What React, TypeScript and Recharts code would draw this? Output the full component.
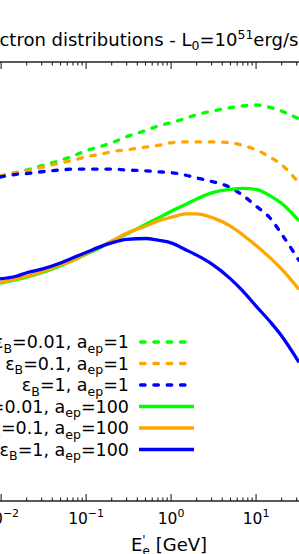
import React from 'react';
import { LineChart, Line, XAxis, YAxis } from 'recharts';

// energy grid (GeV) and log10 of the distributions (arbitrary units)
const ENERGY = [0.0097, 0.015, 0.02, 0.03, 0.05, 0.07, 0.1, 0.15, 0.2, 0.3, 0.5, 0.7, 1, 1.5, 2, 3, 5, 7, 10, 15, 20, 32];

const greenDashed = [48.70, 48.74, 48.77, 48.82, 48.88, 48.93, 48.99, 49.04, 49.08, 49.15, 49.22, 49.27, 49.31, 49.36, 49.40, 49.44, 49.48, 49.50, 49.51, 49.48, 49.44, 49.35];
const orangeDashed = [48.70, 48.74, 48.76, 48.80, 48.85, 48.88, 48.92, 48.95, 48.98, 49.00, 49.03, 49.05, 49.08, 49.09, 49.09, 49.09, 49.08, 49.05, 49.00, 48.91, 48.83, 48.62];
const blueDashed = [48.69, 48.72, 48.73, 48.75, 48.77, 48.78, 48.78, 48.78, 48.78, 48.77, 48.76, 48.75, 48.74, 48.71, 48.68, 48.64, 48.57, 48.48, 48.36, 48.21, 48.04, 47.74];
const greenSolid = [47.48, 47.52, 47.55, 47.60, 47.68, 47.74, 47.81, 47.89, 47.96, 48.04, 48.15, 48.22, 48.30, 48.38, 48.44, 48.51, 48.55, 48.56, 48.55, 48.47, 48.39, 48.19];
const orangeSolid = [47.49, 47.53, 47.56, 47.61, 47.69, 47.74, 47.82, 47.90, 47.96, 48.05, 48.13, 48.19, 48.23, 48.27, 48.27, 48.23, 48.13, 48.03, 47.91, 47.76, 47.64, 47.41];
const blueSolid = [47.53, 47.56, 47.60, 47.64, 47.71, 47.77, 47.83, 47.90, 47.94, 47.98, 47.99, 47.97, 47.94, 47.86, 47.80, 47.70, 47.53, 47.39, 47.22, 47.03, 46.88, 46.58];

const MAJOR_TICKS = [0.01, 0.1, 1, 10];
const MAJOR_LABELS = ['-2', '-1', '0', '1'];
const MINOR_TICKS = [
  0.02, 0.03, 0.04, 0.05, 0.06, 0.07, 0.08, 0.09,
  0.2, 0.3, 0.4, 0.5, 0.6, 0.7, 0.8, 0.9,
  2, 3, 4, 5, 6, 7, 8, 9, 20, 30,
];

const SERIES = [
  { key: 'gd', values: greenDashed, color: '#00ff00', dashed: true, eps: '0.01', aep: '1' },
  { key: 'od', values: orangeDashed, color: '#ffa500', dashed: true, eps: '0.1', aep: '1' },
  { key: 'bd', values: blueDashed, color: '#0000ff', dashed: true, eps: '1', aep: '1' },
  { key: 'gs', values: greenSolid, color: '#00ff00', dashed: false, eps: '0.01', aep: '100' },
  { key: 'os', values: orangeSolid, color: '#ffa500', dashed: false, eps: '0.1', aep: '100' },
  { key: 'bs', values: blueSolid, color: '#0000ff', dashed: false, eps: '1', aep: '100' },
];

const data = ENERGY.map((e, i) => {
  const row: any = { e };
  SERIES.forEach((s) => { row[s.key] = s.values[i]; });
  return row;
});

const FONT = 'DejaVu Sans';
const AXIS_COLOR = '#222';
const ALL_TICKS = [...MAJOR_TICKS, ...MINOR_TICKS].sort((a, b) => a - b);

const BottomTick = (props: any) => {
  const { x, y, payload } = props;
  const idx = MAJOR_TICKS.indexOf(payload.value);
  const major = idx >= 0;
  return (
    <g>
      <line x1={x} x2={x} y1={y} y2={y - (major ? 7 : 3.5)} stroke={AXIS_COLOR} strokeWidth={1.1} />
      {major && (
        <text x={x} y={y + 23} textAnchor="middle" fontFamily={FONT} fontSize={15.5} fill="#000">
          10<tspan dy={-7} fontSize={11}>{MAJOR_LABELS[idx].replace('-', '\u2212')}</tspan>
        </text>
      )}
    </g>
  );
};

const TopTick = (props: any) => {
  const { x, y, payload } = props;
  const major = MAJOR_TICKS.indexOf(payload.value) >= 0;
  return <line x1={x} x2={x} y1={y} y2={y + (major ? 7 : 3.5)} stroke={AXIS_COLOR} strokeWidth={1.1} />;
};

const LegendRow = ({ s, y }: { s: any; y: number }) => (
  <g>
    <text x={129} y={y + 6} textAnchor="end" fontFamily={FONT} fontSize={17.5} fill="#000">
      ε<tspan dy={4.5} fontSize={12.5}>B</tspan>
      <tspan dy={-4.5}>={s.eps}, a</tspan>
      <tspan dy={4.5} fontSize={12.5}>ep</tspan>
      <tspan dy={-4.5}>={s.aep}</tspan>
    </text>
    {s.dashed ? (
      <line x1={140.6} x2={185} y1={y} y2={y} stroke={s.color} strokeWidth={3.3} strokeDasharray="4.5 8.8" strokeLinecap="round" />
    ) : (
      <line x1={139} x2={194} y1={y} y2={y} stroke={s.color} strokeWidth={3.3} />
    )}
  </g>
);

export default function App() {
  return (
    <div style={{ position: 'absolute', left: 0, top: 0, width: 299, height: 554, overflow: 'hidden', background: '#fff' }}>
      <LineChart width={299} height={554} data={data} margin={{ top: 42, right: 0, bottom: 23, left: 0 }}>
        <XAxis
          dataKey="e"
          type="number"
          scale="log"
          domain={[0.0097, 32]}
          allowDataOverflow
          ticks={ALL_TICKS}
          interval={0}
          height={30}
          tickSize={0}
          tickMargin={0}
          tick={<BottomTick />}
          axisLine={{ stroke: AXIS_COLOR, strokeWidth: 1.3 }}
        />
        <XAxis
          xAxisId="top"
          orientation="top"
          dataKey="e"
          type="number"
          scale="log"
          domain={[0.0097, 32]}
          allowDataOverflow
          ticks={ALL_TICKS}
          interval={0}
          height={20}
          tickSize={0}
          tickMargin={0}
          tick={<TopTick />}
          axisLine={{ stroke: AXIS_COLOR, strokeWidth: 1.3 }}
        />
        <YAxis hide type="number" domain={[45, 50]} allowDataOverflow />
        {SERIES.map((s) => (
          <Line
            key={s.key}
            dataKey={s.key}
            type="monotone"
            stroke={s.color}
            strokeWidth={3.3}
            strokeDasharray={s.dashed ? '4.5 8.8' : undefined}
            strokeLinecap={s.dashed ? 'round' : 'butt'}
            dot={false}
            activeDot={false}
            isAnimationActive={false}
          />
        ))}
      </LineChart>
      <svg width={299} height={554} style={{ position: 'absolute', left: 0, top: 0, pointerEvents: 'none' }}>
        <text x={-28} y={46} fontFamily={FONT} fontSize={18} fill="#000">
          Electron distributions - L<tspan dy={4} fontSize={12.5}>0</tspan>
          <tspan dy={-4}>=10</tspan>
          <tspan dy={-7} fontSize={12.5}>51</tspan>
          <tspan dy={7}>erg/s</tspan>
        </text>
        {SERIES.map((s, i) => (
          <LegendRow key={s.key} s={s} y={342 + i * 21.5} />
        ))}
        <text x={169} y={551} textAnchor="middle" fontFamily={FONT} fontSize={18} fill="#000">
          E<tspan dy={-7} fontSize={12}>'</tspan>
          <tspan dx={-3} dy={11} fontSize={12}>e</tspan>
          <tspan dy={-4}> [GeV]</tspan>
        </text>
      </svg>
    </div>
  );
}
